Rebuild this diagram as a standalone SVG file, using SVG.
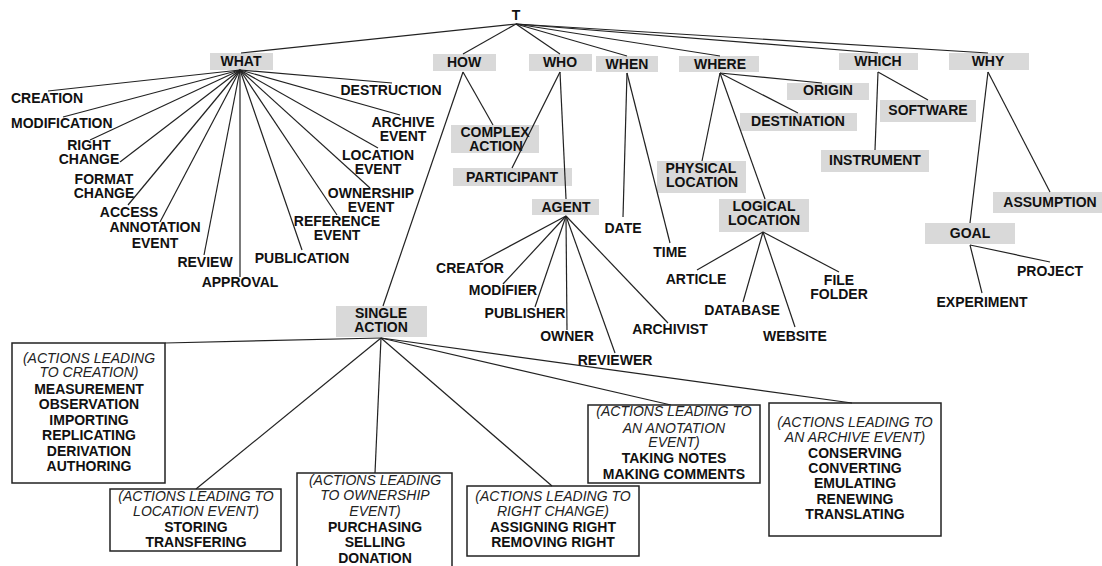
<svg xmlns="http://www.w3.org/2000/svg" width="1102" height="566" viewBox="0 0 1102 566">
<style>
text{font-family:"Liberation Sans",Arial,sans-serif;font-size:14px;fill:#111;}
.b{font-weight:bold;text-anchor:middle;}
.s{font-weight:bold;text-anchor:start;}
.i{font-style:italic;text-anchor:middle;fill:#222;}
.gb{fill:#d9d9d9;stroke:none;}
.wb{fill:#fff;stroke:#222;stroke-width:1.5;}
.c line{stroke:#222;stroke-width:1.2;}
</style>
<rect width="1102" height="566" fill="#fff"/>
<g id="n-T"><text class="b" x="516" y="20">T</text></g>
<g id="n-what"><rect class="gb" x="210" y="53" width="63" height="17"/><text class="b" x="241" y="66">WHAT</text></g>
<g id="n-how"><rect class="gb" x="433" y="54" width="63" height="17"/><text class="b" x="464" y="67">HOW</text></g>
<g id="n-who"><rect class="gb" x="529" y="54" width="63" height="17"/><text class="b" x="560" y="67">WHO</text></g>
<g id="n-when"><rect class="gb" x="596" y="56" width="62" height="16"/><text class="b" x="627" y="69">WHEN</text></g>
<g id="n-where"><rect class="gb" x="679" y="56" width="80" height="16"/><text class="b" x="720" y="69">WHERE</text></g>
<g id="n-which"><rect class="gb" x="839" y="53" width="79" height="17"/><text class="b" x="878" y="66">WHICH</text></g>
<g id="n-why"><rect class="gb" x="949" y="53" width="80" height="17"/><text class="b" x="988" y="66">WHY</text></g>

<g id="n-creation"><text class="s" x="11" y="103">CREATION</text></g>
<g id="n-modification"><text class="s" x="11" y="128">MODIFICATION</text></g>
<g id="n-rightchange"><text class="b" x="89" y="150">RIGHT</text><text class="b" x="89" y="164">CHANGE</text></g>
<g id="n-formatchange"><text class="b" x="104" y="184">FORMAT</text><text class="b" x="104" y="198">CHANGE</text></g>
<g id="n-access"><text class="b" x="129" y="217">ACCESS</text></g>
<g id="n-annotation"><text class="b" x="155" y="232">ANNOTATION</text><text class="b" x="155" y="248">EVENT</text></g>
<g id="n-review"><text class="b" x="205" y="267">REVIEW</text></g>
<g id="n-approval"><text class="b" x="240" y="287">APPROVAL</text></g>
<g id="n-publication"><text class="b" x="302" y="263">PUBLICATION</text></g>
<g id="n-reference"><text class="b" x="337" y="226">REFERENCE</text><text class="b" x="337" y="240">EVENT</text></g>
<g id="n-ownership"><text class="b" x="371" y="198">OWNERSHIP</text><text class="b" x="371" y="212">EVENT</text></g>
<g id="n-location"><text class="b" x="378" y="160">LOCATION</text><text class="b" x="378" y="174">EVENT</text></g>
<g id="n-archive"><text class="b" x="403" y="127">ARCHIVE</text><text class="b" x="403" y="141">EVENT</text></g>
<g id="n-destruction"><text class="b" x="391" y="95">DESTRUCTION</text></g>

<g id="n-complex"><rect class="gb" x="451" y="125" width="88" height="28"/><text class="b" x="495" y="137">COMPLEX</text><text class="b" x="496" y="151">ACTION</text></g>
<g id="n-participant"><rect class="gb" x="453" y="168" width="119" height="18"/><text class="b" x="512" y="182">PARTICIPANT</text></g>
<g id="n-agent"><rect class="gb" x="532" y="199" width="67" height="16"/><text class="b" x="566" y="212">AGENT</text></g>
<g id="n-creator"><text class="b" x="470" y="273">CREATOR</text></g>
<g id="n-modifier"><text class="b" x="503" y="295">MODIFIER</text></g>
<g id="n-publisher"><text class="b" x="525" y="318">PUBLISHER</text></g>
<g id="n-owner"><text class="b" x="567" y="341">OWNER</text></g>
<g id="n-reviewer"><text class="b" x="615" y="365">REVIEWER</text></g>
<g id="n-archivist"><text class="b" x="670" y="334">ARCHIVIST</text></g>

<g id="n-date"><text class="b" x="623" y="233">DATE</text></g>
<g id="n-time"><text class="b" x="670" y="257">TIME</text></g>

<g id="n-origin"><rect class="gb" x="787" y="83" width="82" height="17"/><text class="b" x="828" y="95">ORIGIN</text></g>
<g id="n-destination"><rect class="gb" x="740" y="113" width="117" height="18"/><text class="b" x="798" y="126">DESTINATION</text></g>
<g id="n-physical"><rect class="gb" x="657" y="161" width="89" height="32"/><text class="b" x="701" y="173">PHYSICAL</text><text class="b" x="702" y="187">LOCATION</text></g>
<g id="n-logical"><rect class="gb" x="719" y="199" width="90" height="33"/><text class="b" x="764" y="211">LOGICAL</text><text class="b" x="764" y="225">LOCATION</text></g>
<g id="n-article"><text class="b" x="696" y="284">ARTICLE</text></g>
<g id="n-database"><text class="b" x="742" y="315">DATABASE</text></g>
<g id="n-website"><text class="b" x="795" y="341">WEBSITE</text></g>
<g id="n-filefolder"><text class="b" x="839" y="285">FILE</text><text class="b" x="839" y="299">FOLDER</text></g>

<g id="n-software"><rect class="gb" x="880" y="100" width="96" height="22"/><text class="b" x="928" y="115">SOFTWARE</text></g>
<g id="n-instrument"><rect class="gb" x="821" y="150" width="108" height="22"/><text class="b" x="875" y="165">INSTRUMENT</text></g>
<g id="n-assumption"><rect class="gb" x="993" y="192" width="109" height="21"/><text class="b" x="1050" y="207">ASSUMPTION</text></g>
<g id="n-goal"><rect class="gb" x="925" y="223" width="90" height="21"/><text class="b" x="970" y="238">GOAL</text></g>
<g id="n-project"><text class="b" x="1050" y="276">PROJECT</text></g>
<g id="n-experiment"><text class="b" x="982" y="307">EXPERIMENT</text></g>

<g id="n-single"><rect class="gb" x="336" y="306" width="91" height="31"/><text class="b" x="381" y="318">SINGLE</text><text class="b" x="381" y="332">ACTION</text></g>

<g id="n-act-creation"><rect class="wb" x="12" y="343" width="153" height="140"/>
<text class="i" x="89" y="363">(ACTIONS LEADING</text><text class="i" x="89" y="377">TO CREATION)</text>
<text class="b" x="89" y="394">MEASUREMENT</text><text class="b" x="89" y="409">OBSERVATION</text><text class="b" x="89" y="425">IMPORTING</text><text class="b" x="89" y="440">REPLICATING</text><text class="b" x="89" y="456">DERIVATION</text><text class="b" x="89" y="471">AUTHORING</text></g>
<g id="n-act-location"><rect class="wb" x="110" y="489" width="171" height="62"/>
<text class="i" x="196" y="501">(ACTIONS LEADING TO</text><text class="i" x="196" y="516">LOCATION EVENT)</text>
<text class="b" x="196" y="532">STORING</text><text class="b" x="196" y="547">TRANSFERING</text></g>
<g id="n-act-ownership"><rect class="wb" x="297" y="473" width="155" height="100"/>
<text class="i" x="375" y="485">(ACTIONS LEADING</text><text class="i" x="375" y="500">TO OWNERSHIP</text><text class="i" x="375" y="516">EVENT)</text>
<text class="b" x="375" y="532">PURCHASING</text><text class="b" x="375" y="547">SELLING</text><text class="b" x="375" y="563">DONATION</text></g>
<g id="n-act-right"><rect class="wb" x="467" y="486" width="172" height="70"/>
<text class="i" x="553" y="501">(ACTIONS LEADING TO</text><text class="i" x="553" y="516">RIGHT CHANGE)</text>
<text class="b" x="553" y="532">ASSIGNING RIGHT</text><text class="b" x="553" y="547">REMOVING RIGHT</text></g>
<g id="n-act-annotation"><rect class="wb" x="588" y="405" width="172" height="78"/>
<text class="i" x="674" y="416">(ACTIONS LEADING TO</text><text class="i" x="674" y="433">AN ANOTATION</text><text class="i" x="674" y="447">EVENT)</text>
<text class="b" x="674" y="463">TAKING NOTES</text><text class="b" x="674" y="479">MAKING COMMENTS</text></g>
<g id="n-act-archive"><rect class="wb" x="769" y="403" width="172" height="133"/>
<text class="i" x="855" y="427">(ACTIONS LEADING TO</text><text class="i" x="855" y="442">AN ARCHIVE EVENT)</text>
<text class="b" x="855" y="458">CONSERVING</text><text class="b" x="855" y="473">CONVERTING</text><text class="b" x="855" y="488">EMULATING</text><text class="b" x="855" y="504">RENEWING</text><text class="b" x="855" y="519">TRANSLATING</text></g>

<g id="connectors" class="c">
<line x1="516" y1="24" x2="241" y2="53"/>
<line x1="516" y1="24" x2="463" y2="54"/>
<line x1="516" y1="24" x2="560" y2="54"/>
<line x1="516" y1="24" x2="627" y2="56"/>
<line x1="516" y1="24" x2="720" y2="56"/>
<line x1="516" y1="24" x2="878" y2="53"/>
<line x1="516" y1="24" x2="988" y2="53"/>
<line x1="240" y1="70" x2="48" y2="91"/>
<line x1="240" y1="70" x2="63" y2="117"/>
<line x1="240" y1="70" x2="90" y2="140"/>
<line x1="240" y1="70" x2="120" y2="162"/>
<line x1="240" y1="70" x2="128" y2="205"/>
<line x1="240" y1="70" x2="160" y2="222"/>
<line x1="240" y1="70" x2="204" y2="255"/>
<line x1="240" y1="70" x2="240" y2="277"/>
<line x1="240" y1="70" x2="302" y2="250"/>
<line x1="240" y1="70" x2="337" y2="215"/>
<line x1="240" y1="70" x2="370" y2="188"/>
<line x1="240" y1="70" x2="378" y2="148"/>
<line x1="240" y1="70" x2="400" y2="115"/>
<line x1="240" y1="70" x2="392" y2="83"/>
<line x1="463" y1="72" x2="493" y2="125"/>
<line x1="463" y1="72" x2="383" y2="306"/>
<line x1="560" y1="72" x2="512" y2="168"/>
<line x1="560" y1="72" x2="566" y2="199"/>
<line x1="566" y1="216" x2="480" y2="262"/>
<line x1="566" y1="216" x2="503" y2="284"/>
<line x1="566" y1="216" x2="535" y2="307"/>
<line x1="566" y1="216" x2="567" y2="330"/>
<line x1="566" y1="216" x2="615" y2="353"/>
<line x1="566" y1="216" x2="668" y2="323"/>
<line x1="627" y1="73" x2="623" y2="217"/>
<line x1="627" y1="73" x2="670" y2="243"/>
<line x1="720" y1="73" x2="822" y2="83"/>
<line x1="720" y1="73" x2="798" y2="113"/>
<line x1="720" y1="73" x2="702" y2="161"/>
<line x1="720" y1="73" x2="765" y2="199"/>
<line x1="763" y1="232" x2="697" y2="270"/>
<line x1="763" y1="232" x2="743" y2="302"/>
<line x1="763" y1="232" x2="795" y2="327"/>
<line x1="763" y1="232" x2="839" y2="272"/>
<line x1="878" y1="72" x2="928" y2="100"/>
<line x1="878" y1="72" x2="875" y2="150"/>
<line x1="988" y1="72" x2="970" y2="223"/>
<line x1="988" y1="72" x2="1050" y2="192"/>
<line x1="970" y1="245" x2="982" y2="293"/>
<line x1="970" y1="245" x2="1050" y2="262"/>
<line x1="381" y1="338" x2="165" y2="343"/>
<line x1="381" y1="338" x2="196" y2="489"/>
<line x1="381" y1="338" x2="375" y2="473"/>
<line x1="381" y1="338" x2="552" y2="486"/>
<line x1="381" y1="338" x2="671" y2="405"/>
<line x1="381" y1="338" x2="852" y2="403"/>
</g>
</svg>
